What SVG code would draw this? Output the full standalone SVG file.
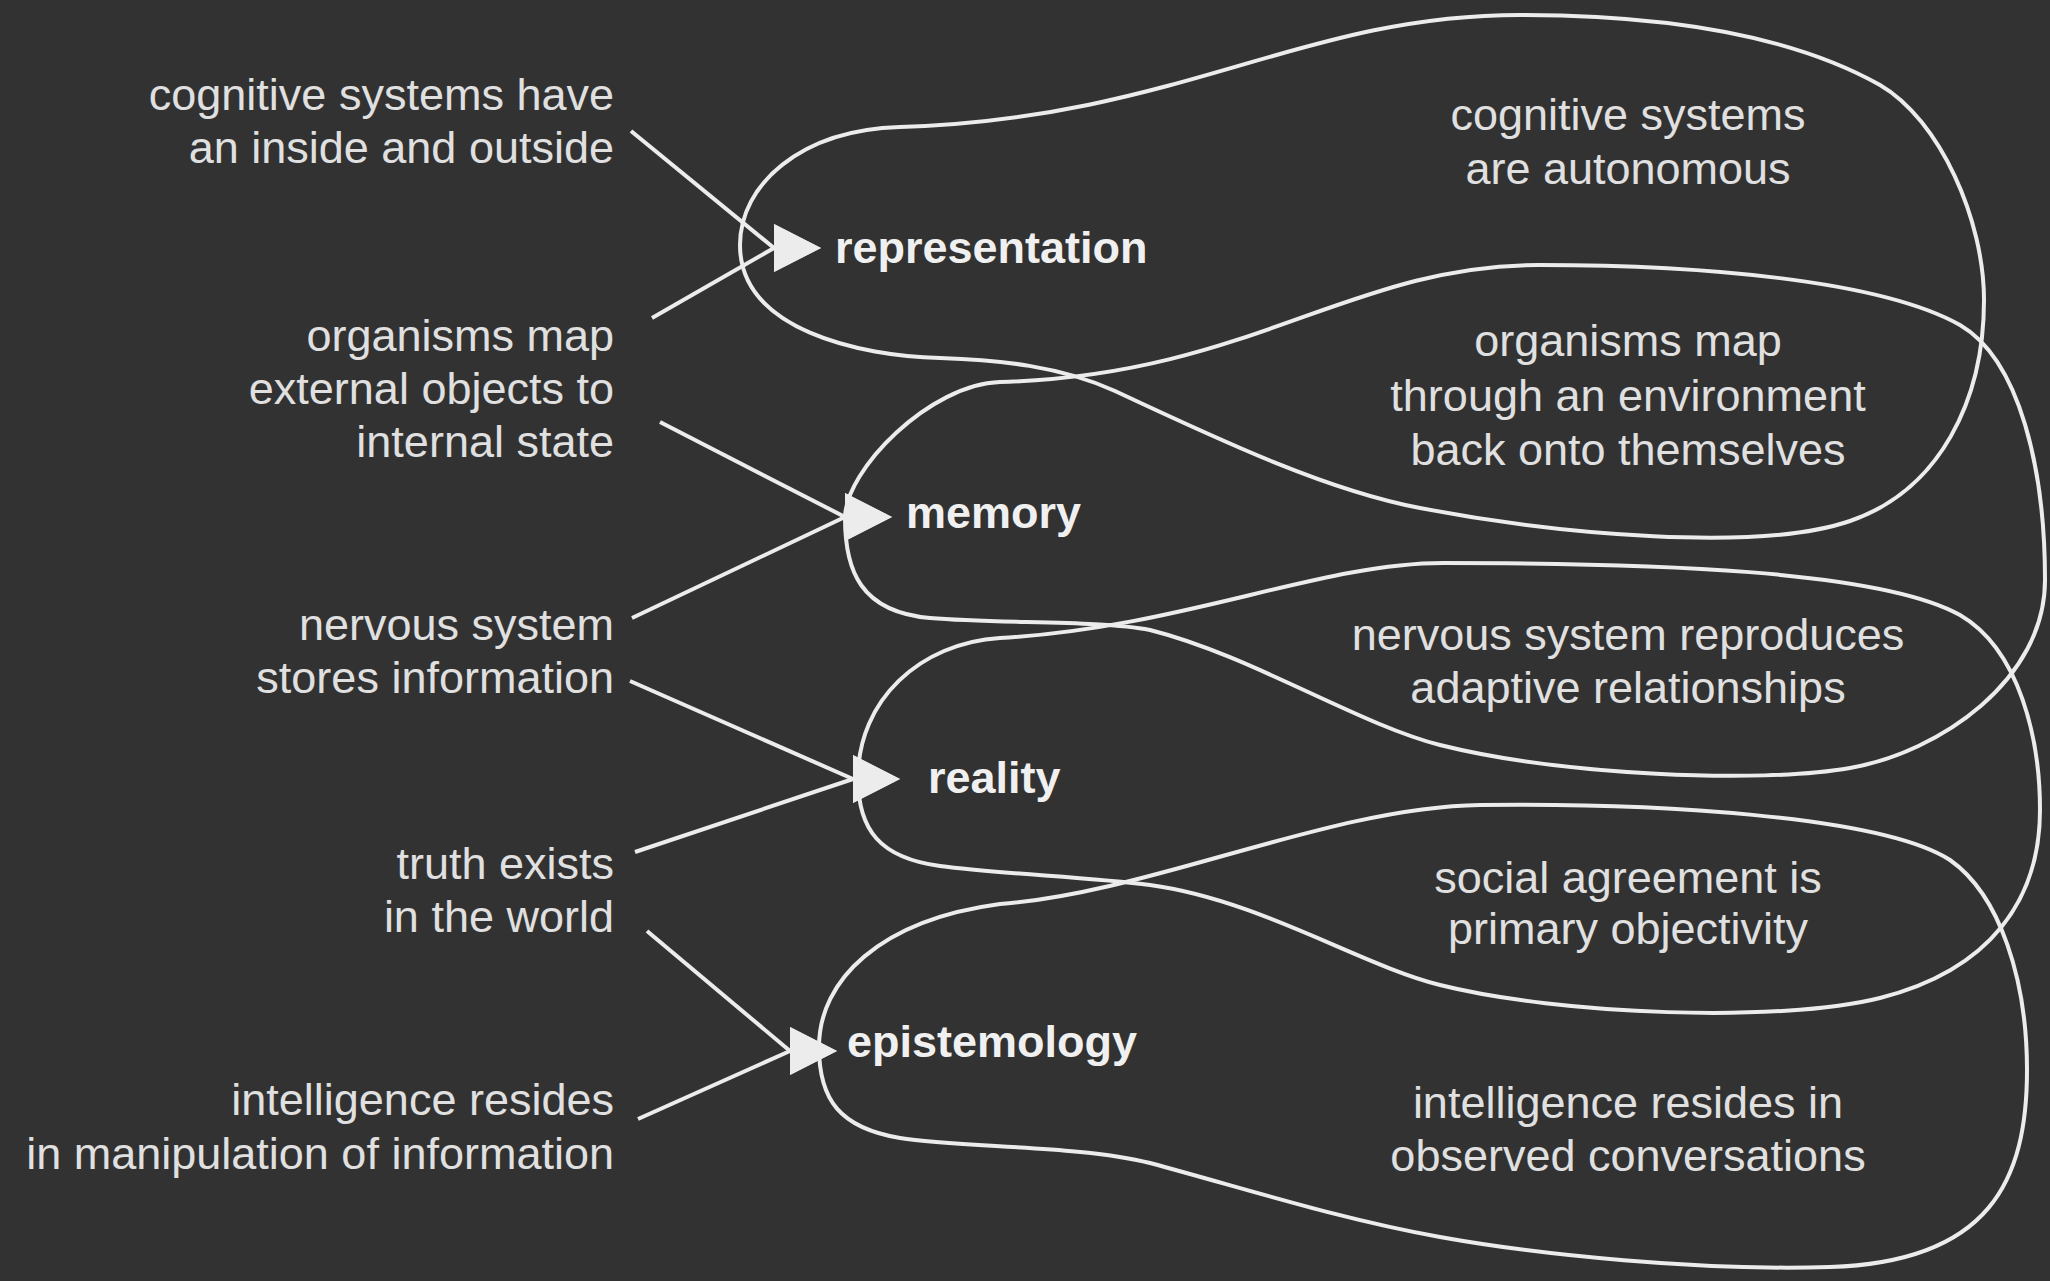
<svg xmlns="http://www.w3.org/2000/svg" width="2050" height="1281" viewBox="0 0 2050 1281">
<defs>
<style>
.bg{fill:#323232}
.loop{fill:none;stroke:#ececec;stroke-width:4;stroke-linejoin:round}
.conn{fill:none;stroke:#ececec;stroke-width:4}
.lbl{font-family:"Liberation Sans",Arial,sans-serif;font-size:45px;font-weight:bold;fill:#f0f0f0}
.txt{font-family:"Liberation Sans",Arial,sans-serif;font-size:45px;fill:#e0e0e0}
.l{text-anchor:end}
.c{text-anchor:middle}
</style>
<marker id="head" markerUnits="userSpaceOnUse" markerWidth="50" markerHeight="50" refX="0" refY="24" orient="0" overflow="visible">
<path d="M0,0 L47,24 L0,48 Z" fill="#ececec"/>
</marker>
</defs>
<rect class="bg" x="0" y="0" width="2050" height="1281"/>

<g id="node-representation">
<path class="loop" d="M740,245 C740,185 800,130 900,127 C1180,118 1300,15 1520,15 C1680,15 1800,40 1880,85 C1940,120 1984,220 1984,300 C1984,400 1940,490 1850,521 C1760,552 1560,535 1420,508 C1330,491 1230,445 1115,391 C1060,366 1000,360 940,358 C860,356 740,330 740,245 Z"/>
<text class="lbl" x="835" y="263">representation</text>
</g>

<g id="node-memory">
<path class="loop" d="M845,518 C845,470 930,384 1000,382 C1250,375 1350,265 1539,265 C1700,265 1880,280 1960,325 C2020,360 2045,470 2045,580 C2045,680 1940,752 1850,768 C1760,784 1560,775 1440,745 C1360,725 1250,655 1150,630 C1100,620 1000,624 930,618 C860,612 845,570 845,518 Z"/>
<text class="lbl" x="906" y="528">memory</text>
</g>

<g id="node-reality">
<path class="loop" d="M858,778 C858,700 920,643 1000,638 C1180,628 1320,563 1443,563 C1650,563 1880,570 1960,615 C2020,650 2040,740 2040,810 C2040,900 1990,970 1880,998 C1780,1023 1560,1015 1440,985 C1360,965 1260,900 1150,885 C1090,877 1000,874 940,866 C880,858 858,830 858,778 Z"/>
<text class="lbl" x="928" y="793">reality</text>
</g>

<g id="node-epistemology">
<path class="loop" d="M819,1047 C819,980 880,920 1000,904 C1150,893 1330,807 1480,805 C1650,803 1880,815 1950,860 C2000,895 2027,980 2027,1070 C2027,1180 1990,1262 1830,1267 C1700,1271 1540,1255 1440,1237 C1340,1219 1250,1190 1150,1163 C1080,1145 960,1148 900,1138 C840,1128 819,1100 819,1047 Z"/>
<text class="lbl" x="847" y="1057">epistemology</text>
</g>

<g id="src-inside-outside">
<text class="txt l" x="614" y="110">cognitive systems have</text>
<text class="txt l" x="614" y="163">an inside and outside</text>
</g>
<g id="src-organisms-map">
<text class="txt l" x="614" y="351">organisms map</text>
<text class="txt l" x="614" y="404">external objects to</text>
<text class="txt l" x="614" y="457">internal state</text>
</g>
<g id="src-nervous-system">
<text class="txt l" x="614" y="640">nervous system</text>
<text class="txt l" x="614" y="693">stores information</text>
</g>
<g id="src-truth">
<text class="txt l" x="614" y="879">truth exists</text>
<text class="txt l" x="614" y="932">in the world</text>
</g>
<g id="src-intelligence">
<text class="txt l" x="614" y="1115">intelligence resides</text>
<text class="txt l" x="614" y="1169">in manipulation of information</text>
</g>

<g id="alt-autonomous">
<text class="txt c" x="1628" y="130">cognitive systems</text>
<text class="txt c" x="1628" y="184">are autonomous</text>
</g>
<g id="alt-organisms">
<text class="txt c" x="1628" y="356">organisms map</text>
<text class="txt c" x="1628" y="411">through an environment</text>
<text class="txt c" x="1628" y="465">back onto themselves</text>
</g>
<g id="alt-nervous">
<text class="txt c" x="1628" y="650">nervous system reproduces</text>
<text class="txt c" x="1628" y="703">adaptive relationships</text>
</g>
<g id="alt-social">
<text class="txt c" x="1628" y="893">social agreement is</text>
<text class="txt c" x="1628" y="944">primary objectivity</text>
</g>
<g id="alt-conversations">
<text class="txt c" x="1628" y="1118">intelligence resides in</text>
<text class="txt c" x="1628" y="1171">observed conversations</text>
</g>

<g id="connectors">
<line class="conn" x1="631" y1="131" x2="774" y2="248" marker-end="url(#head)"/>
<line class="conn" x1="652" y1="318" x2="774" y2="248" marker-end="url(#head)"/>
<line class="conn" x1="660" y1="422" x2="845" y2="517" marker-end="url(#head)"/>
<line class="conn" x1="632" y1="618" x2="845" y2="517" marker-end="url(#head)"/>
<line class="conn" x1="630" y1="681" x2="853" y2="779" marker-end="url(#head)"/>
<line class="conn" x1="635" y1="852" x2="853" y2="779" marker-end="url(#head)"/>
<line class="conn" x1="647" y1="931" x2="790" y2="1051" marker-end="url(#head)"/>
<line class="conn" x1="638" y1="1119" x2="790" y2="1051" marker-end="url(#head)"/>
</g>
</svg>
